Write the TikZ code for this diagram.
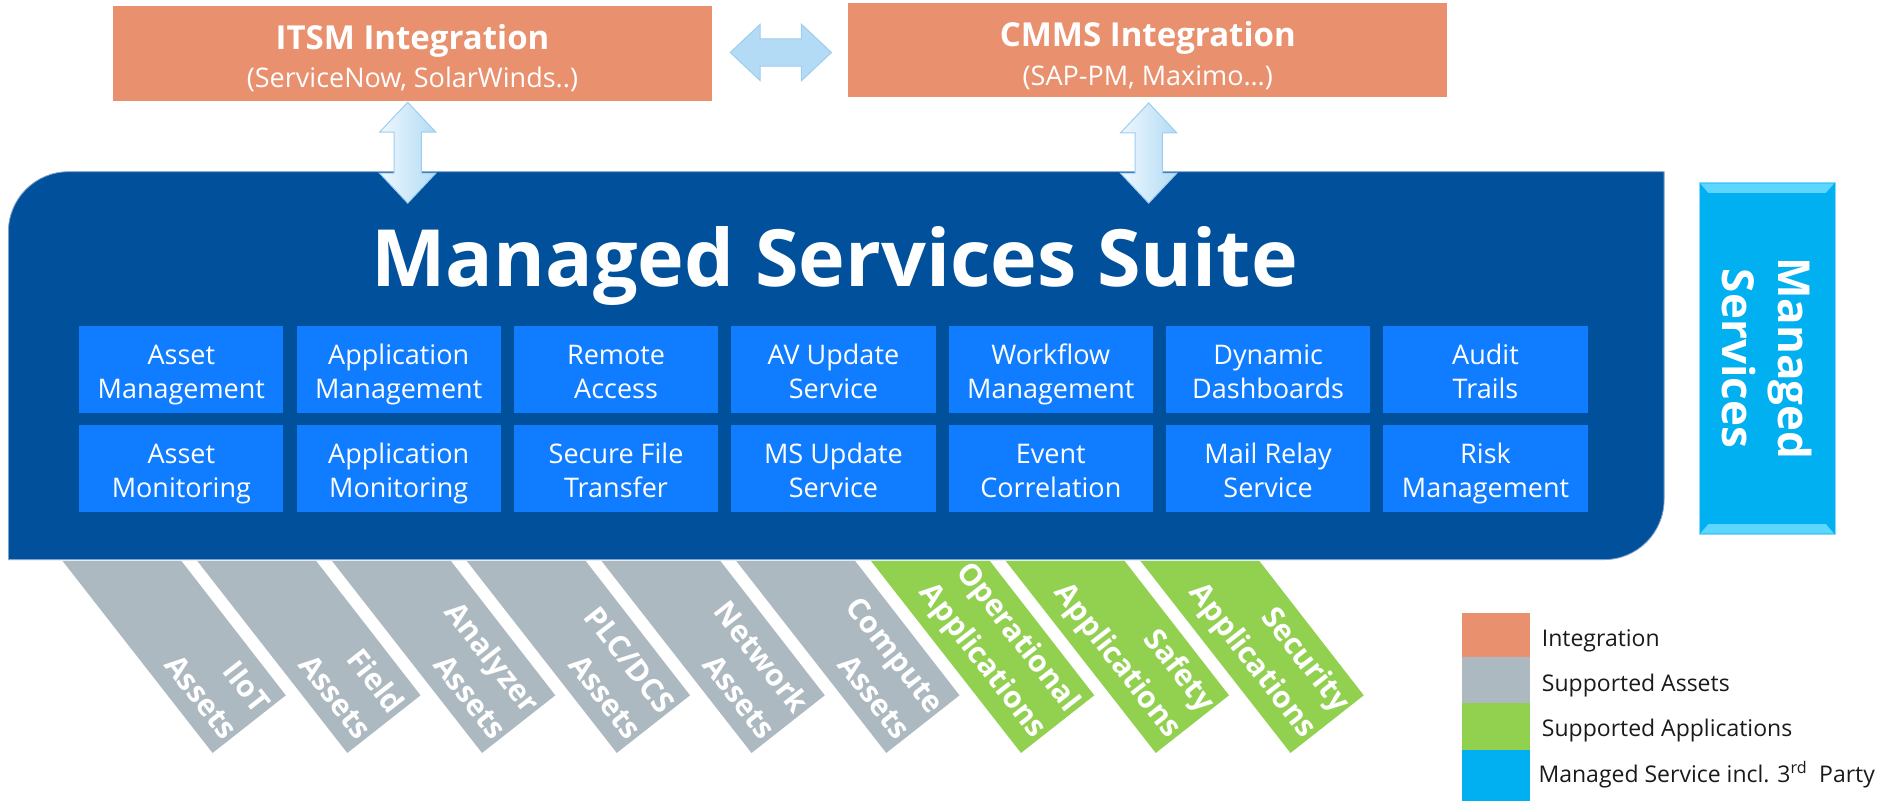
\documentclass[tikz,border=0pt]{standalone}
\usepackage{fontspec}
\setmainfont{Open Sans}
\usetikzlibrary{calc,fit}
\definecolor{intorange}{HTML}{E9916F}
\definecolor{assetgray}{HTML}{ADB9C1}
\definecolor{appgreen}{HTML}{92D050}
\definecolor{msblue}{HTML}{00B0F0}
\definecolor{msbevel}{HTML}{5ED6FF}
\definecolor{msborder}{HTML}{86D9F7}
\definecolor{suiteblue}{HTML}{00509B}
\definecolor{suiteedge}{HTML}{7FA3CC}
\definecolor{svcblue}{HTML}{107CFF}
\definecolor{arrowlight}{HTML}{EEF8FE}
\definecolor{arrowdark}{HTML}{B3DBF5}
\definecolor{arrowline}{HTML}{9FCDEE}
\definecolor{legtext}{HTML}{1A1A1A}

\newcommand\svtop{\rule{0pt}{32pt}}
\newcommand\svbot{\rule[-8pt]{0pt}{8pt}}
\newcommand\dblarrow[3]{%
  \coordinate (#1h) at ($(#1)!30pt!(#2)$);
  \coordinate (#2h) at ($(#2)!30pt!(#1)$);
  \shadedraw[#3] (#1) -- ($(#1h)!28.2pt!90:(#2)$) -- ($(#1h)!13.6pt!90:(#2)$)
    -- ($(#2h)!13.6pt!-90:(#1)$) -- ($(#2h)!28.2pt!-90:(#1)$) -- (#2)
    -- ($(#2h)!28.2pt!90:(#1)$) -- ($(#2h)!13.6pt!90:(#1)$)
    -- ($(#1h)!13.6pt!-90:(#2)$) -- ($(#1h)!28.2pt!-90:(#2)$) -- cycle;
}
\newcommand\ribbon[5]{%
  \fill[#3] (#2,467) coordinate (#1) -- ++(99,0) -- ++(87,112) -- ++(-61,48) -- cycle;
  \node[ribtext, anchor=east] (#1t) at ($(#1)+(154,134)$) {#4\\#5};
}
\newcommand\svcnode[4]{%
  \node[svc] (#1) at (#2) {\svtop #3\\#4\svbot};
}

\begin{document}
\begin{tikzpicture}[x=1.2009pt, y=-1.2009pt,
  intbox/.style={fill=intorange, inner sep=0, minimum width=599pt, minimum height=94.8pt},
  inttitle/.style={text=white, font=\bfseries\fontsize{33}{38}\selectfont, anchor=base, inner sep=0},
  intsub/.style={text=white, font=\fontsize{27}{32}\selectfont, anchor=base, inner sep=0},
  svc/.style={fill=svcblue, minimum width=204.2pt, minimum height=86.5pt, inner sep=0,
    text=white, align=center, font=\fontsize{27}{33.6}\selectfont},
  ribtext/.style={text=white, font=\bfseries\fontsize{30}{42}\selectfont, align=right,
    rotate=-52, inner sep=0},
  arrowv/.style={draw=arrowline, line width=1pt, left color=arrowlight, right color=arrowdark},
  arrowh/.style={draw=arrowline, line width=1pt, left color=arrowdark, middle color=arrowlight, right color=arrowdark},
  legsw/.style={minimum width=67.9pt, inner sep=0, anchor=north west},
  legtxt/.style={text=legtext, font=\fontsize{23}{28}\selectfont, anchor=base west, inner sep=0}
]
\useasboundingbox (0,0) rectangle (1568,666.2);

% integration boxes
\node[intbox] (itsm) at (343.5,44.5) {};
\node[inttitle] (itsmT) at (343.5,41.6) {ITSM Integration};
\node[intsub] (itsmS) at (343.5,72.7) {(ServiceNow, SolarWinds..)};
\node[intbox, minimum width=598.6pt] (cmms) at (955.75,41.6) {};
\node[inttitle] (cmmsT) at (955.75,38.9) {CMMS Integration};
\node[intsub] (cmmsS) at (955.75,70.8) {(SAP-PM, Maximo…)};

% main suite
\filldraw[fill=suiteblue, draw=suiteedge, line width=0.8pt] (7,466) -- (7,193) arc[start angle=180, end angle=270, radius=50]
  -- (1385.7,143) -- (1385.7,416) arc[start angle=0, end angle=90, radius=50] -- cycle;
\node[fit={(7,143)(1385.7,466)}, inner sep=0] (msuite) {};
\node[text=white, font=\bfseries\fontsize{79}{90}\selectfont, anchor=base, inner sep=0]
  (mtitle) at (695,238.8) {Managed Services Suite};

% services
\svcnode{s11}{151,307.5}{Asset}{Management}
\svcnode{s12}{332,307.5}{Application}{Management}
\svcnode{s13}{513,307.5}{Remote}{Access}
\svcnode{s14}{694,307.5}{AV Update}{Service}
\svcnode{s15}{875,307.5}{Workflow}{Management}
\svcnode{s16}{1056,307.5}{Dynamic}{Dashboards}
\svcnode{s17}{1237,307.5}{Audit}{Trails}
\svcnode{s21}{151,390}{Asset}{Monitoring}
\svcnode{s22}{332,390}{Application}{Monitoring}
\svcnode{s23}{513,390}{Secure File}{Transfer}
\svcnode{s24}{694,390}{MS Update}{Service}
\svcnode{s25}{875,390}{Event}{Correlation}
\svcnode{s26}{1056,390}{Mail Relay}{Service}
\svcnode{s27}{1237,390}{Risk}{Management}

% managed services box
\node[fill=msblue, draw=msborder, line width=0.8pt, minimum width=135.7pt, minimum height=351.9pt, inner sep=0]
  (mserv) at (1471.5,298.5) {};
\fill[msbevel] ($(mserv.north west)+(1,1)$) -- ($(mserv.north east)+(-1,1)$) -- ++(-7,8) -- ($(mserv.north west)+(8,9)$) -- cycle;
\fill[msbevel] ($(mserv.south west)+(1,-1)$) -- ($(mserv.south east)+(-1,-1)$) -- ++(-7,-8) -- ($(mserv.south west)+(8,-9)$) -- cycle;
\node[text=white, font=\bfseries\fontsize{44}{56}\selectfont, align=center, rotate=-90, inner sep=0]
  (mservT) at (mserv.center) {Managed\\Services};

% arrows
\coordinate (itsmA) at ($(itsm.south)+(-4,1)$);
\coordinate (itsmB) at ($(itsm.south |- msuite.north)+(-4,26.3)$);
\coordinate (cmmsA) at ($(cmms.south)+(0.75,4.5)$);
\coordinate (cmmsB) at ($(cmms.south |- msuite.north)+(0.75,26.3)$);
\coordinate (hA) at ($(itsm.east)+(15,-0.8)$);
\coordinate (hB) at ($(cmms.west)+(-14,2.1)$);
\dblarrow{itsmA}{itsmB}{arrowv}
\dblarrow{cmmsA}{cmmsB}{arrowv}
\dblarrow{hA}{hB}{arrowh}

% ribbons
\ribbon{r1}{52}{assetgray}{IIoT}{Assets}
\ribbon{r2}{164.2}{assetgray}{Field}{Assets}
\ribbon{r3}{276.4}{assetgray}{Analyzer}{Assets}
\ribbon{r4}{388.6}{assetgray}{PLC/DCS}{Assets}
\ribbon{r5}{500.8}{assetgray}{Network}{Assets}
\ribbon{r6}{613}{assetgray}{Compute}{Assets}
\ribbon{r7}{725.2}{appgreen}{Operational}{Applications}
\ribbon{r8}{837.4}{appgreen}{Safety}{Applications}
\ribbon{r9}{949.6}{appgreen}{Security}{Applications}

% legend
\node[legsw, fill=intorange, minimum height=44.4pt] (lg1) at (1217.5,510) {};
\node[legsw, fill=assetgray, minimum height=45.2pt] (lg2) at (lg1.south west) {};
\node[legsw, fill=appgreen, minimum height=47pt] (lg3) at (lg2.south west) {};
\node[legsw, fill=msblue, minimum height=50.8pt] (lg4) at (lg3.south west) {};
\node[legtxt] (lt1) at (1283.8,538.5) {Integration};
\node[legtxt] (lt2) at (1283.8,576) {Supported Assets};
\node[legtxt] (lt3) at (1283.8,613) {Supported Applications};
\node[legtxt] (lt4) at (1281,652) {Managed Service incl. 3\textsuperscript{rd}\ \ Party};
\end{tikzpicture}
\end{document}
